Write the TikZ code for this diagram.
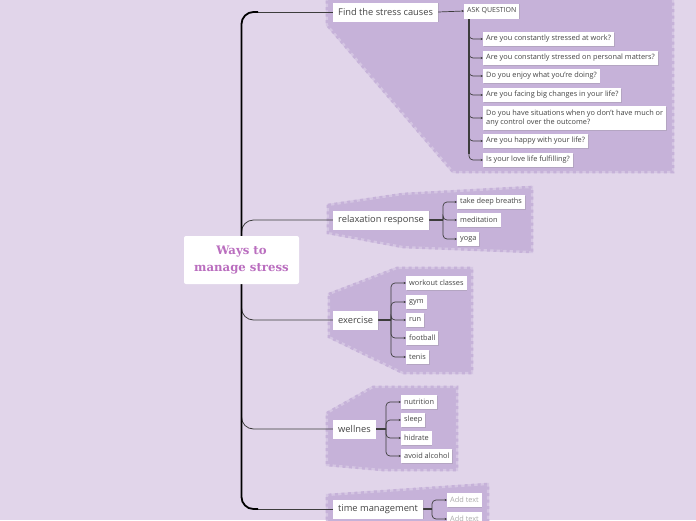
\documentclass[tikz,border=0pt]{standalone}
\usepackage{fontspec}
\setmainfont{Open Sans}
\newfontfamily\titlefont{DejaVu Serif}
\usetikzlibrary{arrows.meta,shadows}
\definecolor{bgc}{HTML}{E1D5EA}
\definecolor{clc}{HTML}{C6B2D9}
\definecolor{clb}{HTML}{D5C6E3}
\definecolor{ttl}{HTML}{BA6EBF}
\definecolor{lnc}{HTML}{3C3C3C}
\definecolor{txc}{HTML}{444444}
\definecolor{addc}{HTML}{AAAAAA}
\pgfdeclarelayer{clusters}
\pgfdeclarelayer{links}
\pgfsetlayers{clusters,links,main}
\newcommand\mmcluster[1]{\fill[clc] #1; \draw[clusteredge] #1; \draw[clusterdash] #1;}
\tikzset{
 box/.style={fill=white, inner ysep=2pt, anchor=west, text=txc,
   drop shadow={shadow xshift=0.7pt,shadow yshift=-0.8pt,opacity=0.25}},
 mainbox/.style={box, inner xsep=5pt, font=\fontsize{9.3}{11}\selectfont, minimum height=19pt},
 subbox/.style={box, inner xsep=3pt, font=\fontsize{7.35}{9}\selectfont, minimum height=14.5pt},
 clusteredge/.style={draw=clb, line width=2.2pt, line join=miter},
 clusterdash/.style={draw=clc, line width=2.6pt, dash pattern=on 3pt off 3.5pt},
 trunk/.style={draw=black, line width=1.8pt, rounded corners=12pt},
 br/.style={draw=lnc, line width=0.8pt, rounded corners=12pt},
 jn/.style={draw=lnc, line width=1.4pt},
 sub/.style={draw=lnc, line width=0.7pt, rounded corners=4pt, -{Stealth[length=2.4pt,width=2.2pt]}},
}
\begin{document}
\begin{tikzpicture}[x=1pt,y=-1pt]
\useasboundingbox (0,0) rectangle (696,520);
\begin{pgfonlayer}{clusters}
\fill[bgc] (0,0) rectangle (696,520);
\mmcluster{(327,-6) -- (327,25) -- (453,172) -- (673,172) -- (673,-6)}
\mmcluster{(328,205) -- (403,194) -- (532,187) -- (532,252) -- (403,247) -- (328,233) -- cycle}
\mmcluster{(329,294) -- (397,268) -- (472,268) -- (472,373) -- (403,373) -- (329,337) -- cycle}
\mmcluster{(327,413) -- (373,387) -- (457,387) -- (457,470) -- (383,470) -- (327,465) -- cycle}
\mmcluster{(327,526) -- (327,495) -- (488,484) -- (488,526)}
\end{pgfonlayer}

% central node
\node[fill=white, rounded corners=2pt, minimum width=115pt, minimum height=48pt,
  font=\titlefont\bfseries\fontsize{11.7}{17}\selectfont, text=ttl, align=center]
  (C) at (241.5,260) {Ways to\\manage stress};

% main topics
\node[mainbox] (find) at (333,12) {Find the stress causes};
\node[mainbox] (relax) at (333,220) {relaxation response};
\node[mainbox] (ex) at (333,320) {exercise};
\node[mainbox] (wel) at (333,429) {wellnes};
\node[mainbox] (tm) at (333,509) {time management};

% find the stress causes
\node[subbox, minimum height=15pt, font=\fontsize{7}{8}\selectfont] (ask) at (464,11) {ASK QUESTION};
\node[subbox] (q1) at (483,39) {Are you constantly stressed at work?};
\node[subbox] (q2) at (483,58) {Are you constantly stressed on personal matters?};
\node[subbox] (q3) at (483,76) {Do you enjoy what you're doing?};
\node[subbox] (q4) at (483,95) {Are you facing big changes in your life?};
\node[subbox, align=left, minimum height=24pt] (q5) at (483,118) {Do you have situations when yo don't have much or\\any control over the outcome?};
\node[subbox] (q6) at (483,141) {Are you happy with your life?};
\node[subbox] (q7) at (483,160) {Is your love life fulfilling?};

% relaxation
\node[subbox] (r1) at (457,202) {take deep breaths};
\node[subbox] (r2) at (457,220) {meditation};
\node[subbox] (r3) at (457,239) {yoga};

% exercise
\node[subbox] (e1) at (406,283) {workout classes};
\node[subbox] (e2) at (406,302) {gym};
\node[subbox] (e3) at (406,320) {run};
\node[subbox] (e4) at (406,338) {football};
\node[subbox] (e5) at (406,357) {tenis};

% wellnes
\node[subbox] (w1) at (401,402) {nutrition};
\node[subbox] (w2) at (401,420) {sleep};
\node[subbox] (w3) at (401,438) {hidrate};
\node[subbox] (w4) at (401,456) {avoid alcohol};

% time management
\node[subbox, text=addc] (t1n) at (447,500) {Add text};
\node[subbox, text=addc] (t2n) at (447,519) {Add text};

\coordinate (ta) at (258,12);
\coordinate (tb) at (258,509);
\coordinate (aj) at (469,18.5);
\coordinate (rj) at (443,220);
\coordinate (ej) at (391,320);
\coordinate (wj) at (386,429);
\coordinate (tj) at (432,509);

\begin{pgfonlayer}{links}
\draw[br] (C.north) |- (relax.west);
\draw[br] (C.south) |- (ex.west);
\draw[br] (C.south) |- (wel.west);
\draw[br] (ta) -- (find.west);
\draw[br] (tb) -- (tm.west);
\draw[trunk] (C.north) |- (ta);
\draw[trunk] (C.south) |- (tb);

\draw[sub] (find.east) -- (ask.west);
\draw[jn] (aj) -- (469,154);
\foreach \q in {q1,q2,q3,q4,q5,q6,q7} \draw[sub] (aj) |- (\q.west);

\draw[jn] (relax.east) -- (rj);
\foreach \q in {r1,r2,r3} \draw[sub] (rj) |- (\q.west);

\draw[jn] (ex.east) -- (ej);
\foreach \q in {e1,e2,e3,e4,e5} \draw[sub] (ej) |- (\q.west);

\draw[jn] (wel.east) -- (wj);
\foreach \q in {w1,w2,w3,w4} \draw[sub] (wj) |- (\q.west);

\draw[jn] (tm.east) -- (tj);
\foreach \q in {t1n,t2n} \draw[sub] (tj) |- (\q.west);
\end{pgfonlayer}
\end{tikzpicture}
\end{document}
